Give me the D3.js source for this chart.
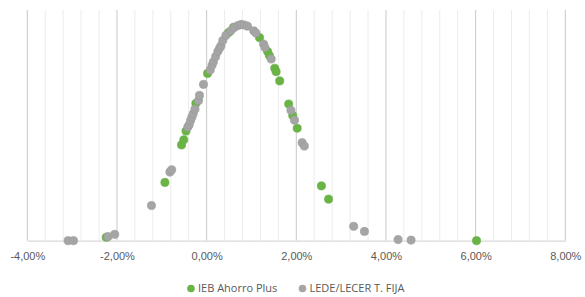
<!DOCTYPE html>
<html>
<head>
<meta charset="utf-8">
<script src="https://cdn.jsdelivr.net/npm/d3@7"></script>
<style>
  body { margin: 0; background: #fff; }
  svg { display: block; font-family: "Open Sans", "Noto Sans", sans-serif; }
</style>
</head>
<body>
<svg id="chart" width="585" height="297"></svg>
<script>
// IEB Ahorro Plus: [rentabilidad %, densidad]
const iebPoints = [
  [-2.24, 0.006], [-0.93, 0.101], [-0.56, 0.166], [-0.51, 0.175], [-0.46, 0.190],
  [-0.24, 0.238], [0.02, 0.290], [0.49, 0.361], [0.60, 0.370], [1.18, 0.352],
  [1.36, 0.328], [1.40, 0.321], [1.52, 0.299], [1.55, 0.293], [1.63, 0.277],
  [1.83, 0.237], [1.92, 0.217], [2.02, 0.195], [2.56, 0.095], [2.72, 0.072],
  [6.02, 0.000]
];

// LEDE/LECER T. FIJA
const ledePoints = [
  [-3.09, 0.000], [-2.97, 0.000], [-2.20, 0.007], [-2.05, 0.011], [-1.23, 0.061],
  [-0.82, 0.119], [-0.78, 0.123], [-0.42, 0.197], [-0.39, 0.201], [-0.36, 0.208],
  [-0.33, 0.214], [-0.30, 0.220], [-0.26, 0.228], [-0.18, 0.243], [-0.16, 0.252],
  [-0.07, 0.271], [0.08, 0.296], [0.12, 0.304], [0.15, 0.310], [0.20, 0.319],
  [0.25, 0.328], [0.29, 0.334], [0.32, 0.338], [0.36, 0.347], [0.43, 0.356],
  [0.54, 0.364], [0.62, 0.370], [0.70, 0.373], [0.77, 0.375], [0.84, 0.374],
  [0.91, 0.372], [1.05, 0.364], [1.10, 0.360], [1.27, 0.341], [1.30, 0.335],
  [1.44, 0.315], [1.88, 0.226], [1.96, 0.209], [2.13, 0.170], [2.18, 0.164],
  [3.28, 0.025], [3.52, 0.016], [4.27, 0.002], [4.56, 0.001]
];

const xTicks = [-4, -2, 0, 2, 4, 6, 8];
const seriesNames = ["IEB Ahorro Plus", "LEDE/LECER T. FIJA"];
const seriesColors = ["#6ab446", "#a5a5a5"];

const svg = d3.select("#chart");
const plotLeft = 27.3, plotRight = 565.3, plotTop = 10, plotBottom = 240.7;

const x = d3.scaleLinear().domain([-4, 8]).range([plotLeft, plotRight]);
const y = d3.scaleLinear().domain([0, 0.4]).range([plotBottom, plotTop]);

const locale = d3.formatLocale({ decimal: ",", thousands: ".", grouping: [3], currency: ["", "€"], minus: "-" });
const fmt = locale.format(".2f");

// minor gridlines every 0,4%
const minor = d3.range(-4, 8.001, 0.4).filter(v => Math.abs(v / 2 - Math.round(v / 2)) > 0.01);
svg.append("g").selectAll("line")
  .data(minor)
  .enter().append("line")
  .attr("x1", d => x(d)).attr("x2", d => x(d))
  .attr("y1", plotTop).attr("y2", plotBottom)
  .attr("stroke", "#ececec").attr("stroke-width", 1);

// major gridlines
svg.append("g").selectAll("line")
  .data(xTicks)
  .enter().append("line")
  .attr("x1", d => x(d)).attr("x2", d => x(d))
  .attr("y1", plotTop).attr("y2", plotBottom)
  .attr("stroke", "#c8c8c8").attr("stroke-width", 1);

// x axis
const xAxis = d3.axisBottom(x)
  .tickValues(xTicks)
  .tickSize(0)
  .tickPadding(12)
  .tickFormat(d => fmt(d) + "%");

const gx = svg.append("g")
  .attr("transform", `translate(0,${plotBottom})`)
  .call(xAxis);
gx.select(".domain").attr("stroke", "#d9d9d9").attr("stroke-width", 1.2);
gx.selectAll("text")
  .attr("fill", "#595959")
  .style("font-size", "11px");

// points
const allSeries = [iebPoints, ledePoints];
allSeries.forEach((pts, i) => {
  svg.append("g").selectAll("circle")
    .data(pts)
    .enter().append("circle")
    .attr("cx", d => x(d[0]))
    .attr("cy", d => y(d[1]))
    .attr("r", 4.1)
    .attr("fill", seriesColors[i])
    .attr("stroke", i === 0 ? "#62ac40" : "#9a9a9a")
    .attr("stroke-width", 0.6);
});

// legend
const legendX = [191, 302.5];
const legend = svg.append("g");
seriesNames.forEach((name, i) => {
  legend.append("circle")
    .attr("cx", legendX[i]).attr("cy", 288.5)
    .attr("r", 3.8)
    .attr("fill", seriesColors[i]);
  legend.append("text")
    .attr("x", legendX[i] + 7).attr("y", 288.5)
    .attr("dy", "0.35em")
    .attr("fill", "#595959")
    .style("font-size", "11px")
    .text(name);
});
</script>
</body>
</html>
